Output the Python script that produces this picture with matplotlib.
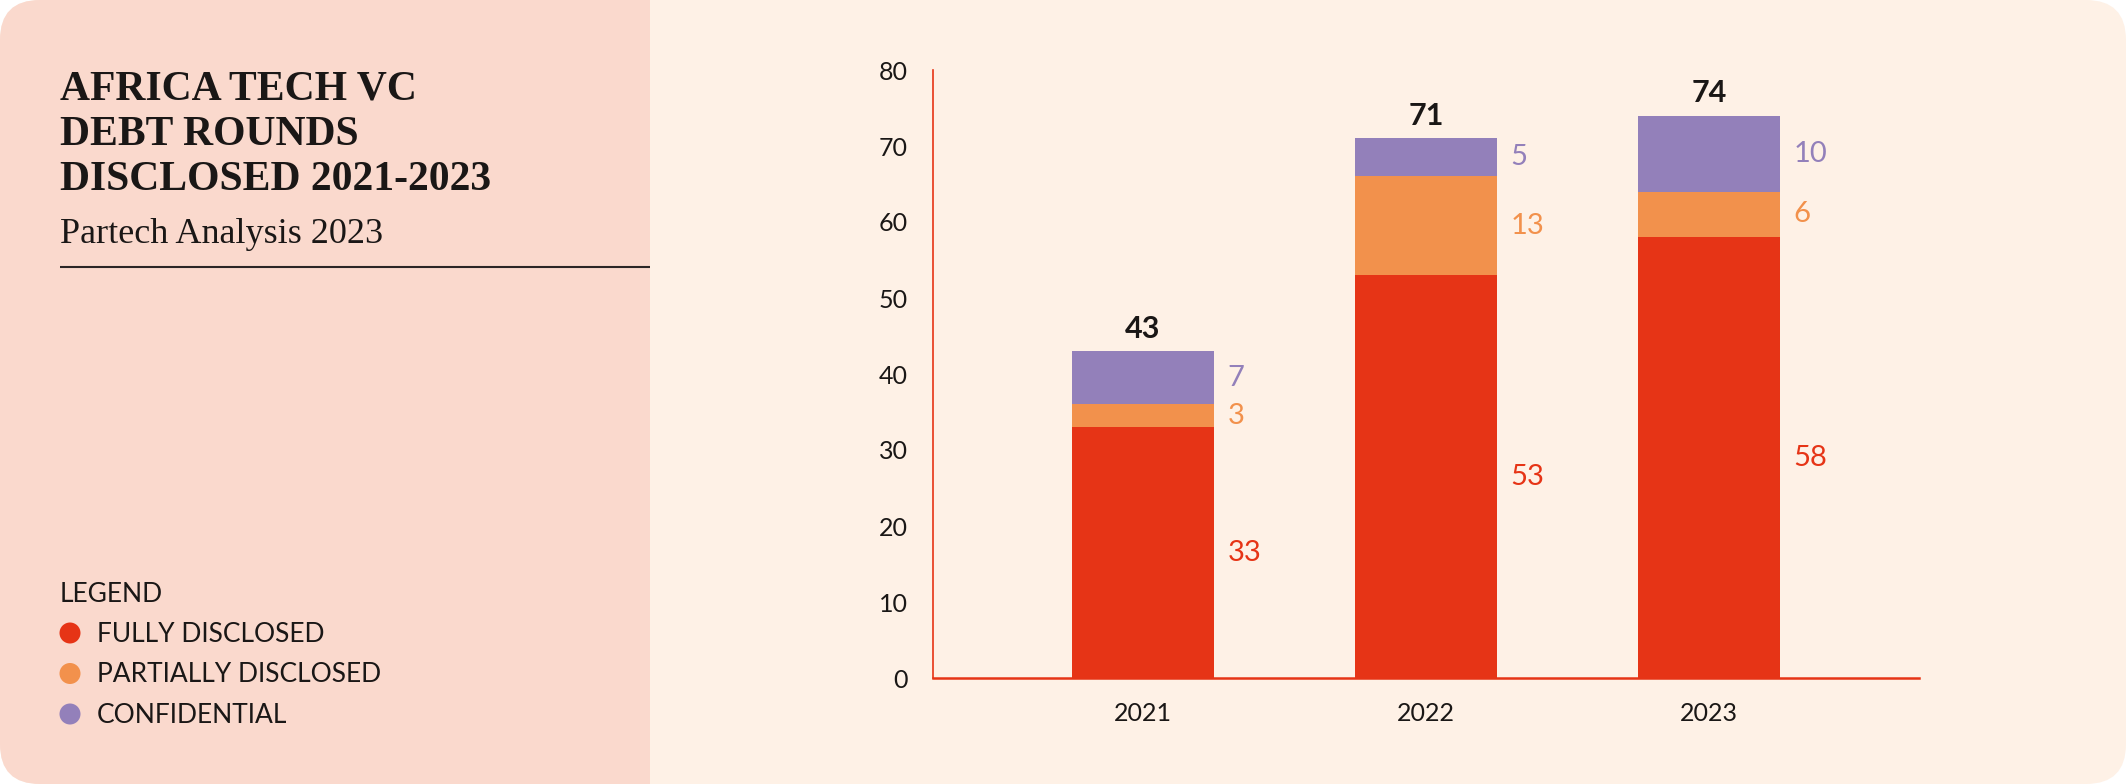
import numpy as np
import matplotlib.pyplot as plt
from matplotlib.patches import FancyBboxPatch, Rectangle, Circle

# data
years = ["2021", "2022", "2023"]
fully = [33, 53, 58]
partial = [3, 13, 6]
confidential = [7, 5, 10]
series_names = ["FULLY DISCLOSED", "PARTIALLY DISCLOSED", "CONFIDENTIAL"]
y_ticks = [0, 10, 20, 30, 40, 50, 60, 70, 80]

RED = "#E63416"
ORANGE = "#F2914C"
PURPLE = "#9380BA"
LEFT_BG = "#FAD9CD"
RIGHT_BG = "#FEF1E6"
INK = "#1A1716"
SANS = ["Lato", "DejaVu Sans"]
SERIF = ["Liberation Serif", "DejaVu Serif"]

W, H = 2126, 784
fig = plt.figure(figsize=(W / 100, H / 100), dpi=100)
fig.patch.set_facecolor("white")

# background panels in pixel coordinates
bg = fig.add_axes([0, 0, 1, 1], zorder=-1)
bg.set_xlim(0, W)
bg.set_ylim(H, 0)
bg.axis("off")
r = 40
bg.add_patch(FancyBboxPatch((0, 0), W, H, boxstyle=f"round,pad=0,rounding_size={r}",
                            fc=RIGHT_BG, ec="none"))
bg.add_patch(FancyBboxPatch((0, 0), 700, H, boxstyle=f"round,pad=0,rounding_size={r}",
                            fc=LEFT_BG, ec="none"))
bg.add_patch(Rectangle((650, 0), 100, H, fc=RIGHT_BG, ec="none"))

# title block
title_lines = ["AFRICA TECH VC", "DEBT ROUNDS", "DISCLOSED 2021-2023"]
for k, line in enumerate(title_lines):
    bg.text(60, 99 + k * 45.5, line, family=SERIF, weight="bold", fontsize=30,
            color=INK, va="baseline", ha="left")
bg.text(60, 243, "Partech Analysis 2023", family=SERIF, fontsize=26,
        color=INK, va="baseline", ha="left")
bg.plot([60, 650], [267, 267], color="#2B2525", lw=1.5, solid_capstyle="butt")

# legend
bg.text(60, 602, "LEGEND", family=SANS, fontsize=19, color=INK, va="baseline")
for k, (name, col) in enumerate(zip(series_names, [RED, ORANGE, PURPLE])):
    yc = 633 + k * 40.5
    bg.add_patch(Circle((70, yc), 10.5, fc=col, ec="none"))
    bg.text(97, yc + 9, name, family=SANS, fontsize=19, color=INK, va="baseline")

# chart
ax = fig.add_axes([933 / W, (H - 678) / H, (1919 - 933) / W, (678 - 70) / H])
ax.set_facecolor("none")
x = np.arange(len(years))
bw = 0.5
fully = np.array(fully)
partial = np.array(partial)
confidential = np.array(confidential)
ax.bar(x, fully, bw, color=RED)
ax.bar(x, partial, bw, bottom=fully, color=ORANGE)
ax.bar(x, confidential, bw, bottom=fully + partial, color=PURPLE)

ax.set_xlim(-0.742, 2.742)
ax.set_ylim(0, 80)
ax.set_yticks(y_ticks)
ax.set_xticks(x, years)
ax.tick_params(length=0, labelsize=18, labelcolor=INK)
ax.tick_params(axis="x", pad=17)
ax.tick_params(axis="y", pad=18)
for lab in ax.get_xticklabels() + ax.get_yticklabels():
    lab.set_family(SANS)
for s in ["top", "right"]:
    ax.spines[s].set_visible(False)
ax.spines["left"].set_color(RED)
ax.spines["left"].set_linewidth(1.2)
ax.spines["bottom"].set_color(RED)
ax.spines["bottom"].set_linewidth(1.8)

totals = fully + partial + confidential
for i in range(len(years)):
    ax.annotate(str(totals[i]), (x[i], totals[i]), xytext=(0, 6), textcoords="offset points",
                ha="center", va="bottom", fontsize=22, weight="bold", color=INK, family=SANS)
    bottoms = [0, fully[i], fully[i] + partial[i]]
    vals = [fully[i], partial[i], confidential[i]]
    for b, v, col in zip(bottoms, vals, [RED, ORANGE, PURPLE]):
        ax.annotate(str(v), (x[i] + bw / 2, b + v / 2), xytext=(10, 0), textcoords="offset points",
                    ha="left", va="center", fontsize=21, color=col, family=SANS)

fig.savefig("out.png", dpi=100, facecolor=fig.get_facecolor())
